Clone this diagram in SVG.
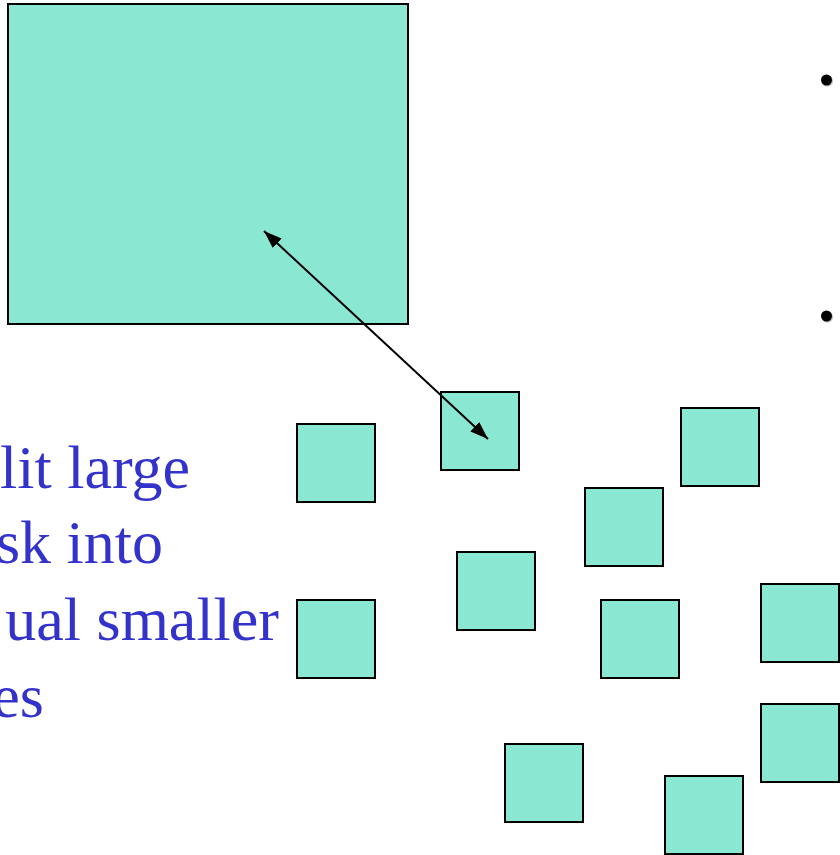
<svg xmlns="http://www.w3.org/2000/svg" width="840" height="855" viewBox="0 0 840 855">
  <style>
    .task { fill: #8ae8d2; stroke: #000; stroke-width: 2; }
    .label { font-family: "Liberation Serif", "Times New Roman", serif; font-size: 62px; fill: #3333cc; text-anchor: end; }
    .link { stroke: #000; stroke-width: 2; fill: none; }
    .bullet { fill: #000; }
  </style>
  <defs>
    <marker id="head" viewBox="0 0 18 13" refX="18" refY="6.5" markerWidth="18" markerHeight="13" markerUnits="userSpaceOnUse" orient="auto-start-reverse">
      <path d="M0,0 L18,6.5 L0,13 z" fill="#000"/>
    </marker>
  </defs>

  <!-- the large task -->
  <g id="large-task">
    <rect class="task" x="8" y="4" width="400" height="320"/>
  </g>

  <!-- bullets of the side list -->
  <g id="bullets">
    <circle cx="827.5" cy="81" r="5.5" fill="#bbb"/>
    <circle class="bullet" cx="826.5" cy="80" r="5.5"/>
    <circle cx="827.5" cy="317" r="5.5" fill="#bbb"/>
    <circle class="bullet" cx="826.5" cy="316" r="5.5"/>
  </g>

  <!-- caption -->
  <g id="caption">
    <text class="label" x="190" y="488">lit large</text>
    <text class="label" x="163" y="563">sk into</text>
    <text class="label" x="279" y="640">ual smaller</text>
    <text class="label" x="44" y="717">es</text>
  </g>

  <!-- the smaller tasks -->
  <g id="task-a"><rect class="task" x="297" y="424" width="78" height="78"/></g>
  <g id="task-b"><rect class="task" x="441" y="392" width="78" height="78"/></g>
  <g id="task-c"><rect class="task" x="681" y="408" width="78" height="78"/></g>
  <g id="task-d"><rect class="task" x="585" y="488" width="78" height="78"/></g>
  <g id="task-e"><rect class="task" x="457" y="552" width="78" height="78"/></g>
  <g id="task-f"><rect class="task" x="601" y="600" width="78" height="78"/></g>
  <g id="task-g"><rect class="task" x="761" y="584" width="78" height="78"/></g>
  <g id="task-h"><rect class="task" x="761" y="704" width="78" height="78"/></g>
  <g id="task-i"><rect class="task" x="297" y="600" width="78" height="78"/></g>
  <g id="task-j"><rect class="task" x="505" y="744" width="78" height="78"/></g>
  <g id="task-k"><rect class="task" x="665" y="776" width="78" height="78"/></g>

  <!-- connectors -->
  <g id="connectors">
    <line class="link" x1="264" y1="231" x2="488" y2="439" marker-start="url(#head)" marker-end="url(#head)"/>
  </g>
</svg>
